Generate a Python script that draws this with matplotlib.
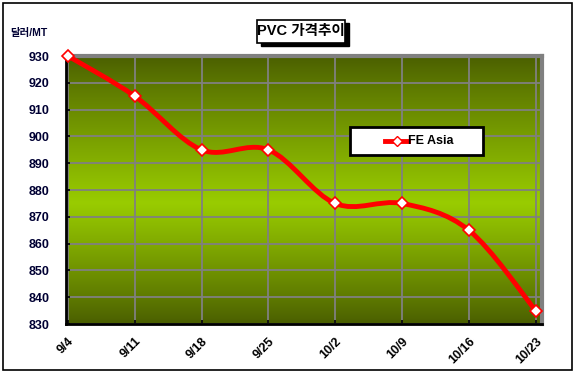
import matplotlib.pyplot as plt
import numpy as np
from matplotlib.path import Path
from matplotlib.patches import PathPatch, Rectangle
from matplotlib.lines import Line2D

plt.rcParams['font.family'] = ['Liberation Sans', 'Noto Sans CJK KR', 'DejaVu Sans']

# data
dates = ["9/4", "9/11", "9/18", "9/25", "10/2", "10/9", "10/16", "10/23"]
prices = [930, 915, 895, 895, 875, 875, 865, 835]
yticks = [830, 840, 850, 860, 870, 880, 890, 900, 910, 920, 930]

fig = plt.figure(figsize=(5.76, 3.76), dpi=100)
fig.patches.append(Rectangle((0.005, 0.016), 0.988, 0.976, transform=fig.transFigure,
                             fill=False, edgecolor='black', lw=1.2))

ax = fig.add_axes([0.1146, 0.138, 0.826, 0.713])
x = np.arange(len(prices))
ax.set_xlim(-0.03, 7.09)
ax.set_ylim(830, 930)

# gradient background: dark olive -> bright yellow green -> dark olive
dark = np.array([74, 94, 0]) / 255
light = np.array([153, 204, 0]) / 255
t = np.linspace(0, 1, 200)
w = np.where(t < 0.45, t / 0.45, (1 - t) / 0.55)
w = np.clip(w, 0, 1) ** 0.9
grad = dark[None, :] * (1 - w[:, None]) + light[None, :] * w[:, None]
ax.imshow(grad[:, None, :], aspect='auto', extent=[-0.03, 7.09, 830, 930],
          origin='lower', zorder=0, interpolation='bilinear')

ax.set_yticks(yticks)
ax.set_xticks(x)
ax.set_xticklabels(dates, rotation=45, ha='right', rotation_mode='anchor')
ax.grid(True, color='#808080', lw=1.3, zorder=1)
ax.tick_params(direction='in', length=3, color='black', width=1.2, labelsize=9,
               labelcolor='#000033')
for lab in ax.get_xticklabels() + ax.get_yticklabels():
    lab.set_fontweight('bold')
ax.tick_params(axis='x', pad=8, labelcolor='black')
ax.tick_params(axis='y', pad=12)

ax.spines['left'].set_color('black')
ax.spines['bottom'].set_color('black')
ax.spines['left'].set_linewidth(2)
ax.spines['bottom'].set_linewidth(2)
ax.spines['top'].set_color('#808080')
ax.spines['right'].set_color('#808080')
ax.spines['top'].set_linewidth(3)
ax.spines['right'].set_linewidth(3)

# smoothed line (Catmull-Rom as bezier curves)
pts = np.column_stack([x, prices]).astype(float)
verts = [pts[0]]
codes = [Path.MOVETO]
n = len(pts)
for i in range(n - 1):
    p0 = pts[max(i - 1, 0)]
    p1 = pts[i]
    p2 = pts[i + 1]
    p3 = pts[min(i + 2, n - 1)]
    c1 = p1 + (p2 - p0) / 6
    c2 = p2 - (p3 - p1) / 6
    verts += [c1, c2, p2]
    codes += [Path.CURVE4] * 3
ax.add_patch(PathPatch(Path(verts, codes), facecolor='none', edgecolor='red',
                       lw=3.5, zorder=3, clip_on=False))
ax.plot(x, prices, linestyle='none', marker='D', markersize=6, markerfacecolor='white',
        markeredgecolor='red', markeredgewidth=1.2, zorder=4, clip_on=False)

# legend box drawn by hand
fig.patches.append(Rectangle((350 / 576, 1 - 155 / 376), 133 / 576, 28 / 376,
                             transform=fig.transFigure, facecolor='white',
                             edgecolor='black', lw=2, zorder=5))
fig.lines.append(Line2D([385 / 576, 408 / 576], [1 - 141 / 376] * 2, transform=fig.transFigure,
                        color='red', lw=3.5, zorder=6))
fig.lines.append(Line2D([396.5 / 576], [1 - 141 / 376], transform=fig.transFigure,
                        marker='D', markersize=5, markerfacecolor='white',
                        markeredgecolor='red', lw=0, zorder=7))
fig.text(408 / 576, 1 - 141 / 376, "FE Asia", ha='left', va='center',
         fontsize=9, fontweight='bold', zorder=8)

# title with shadow box
fig.patches.append(Rectangle((261 / 576, 1 - 46 / 376), 88 / 576, 23 / 376,
                             transform=fig.transFigure, facecolor='black', edgecolor='black'))
fig.patches.append(Rectangle((257 / 576, 1 - 43 / 376), 88 / 576, 23 / 376,
                             transform=fig.transFigure, facecolor='white', edgecolor='black', lw=1.2))
fig.text(301 / 576, 1 - 31.5 / 376, "PVC 가격추이", ha='center', va='center',
         fontsize=10.5, fontweight='bold')
fig.text(10 / 576, 1 - 33 / 376, "달러/MT", ha='left', va='center',
         fontsize=7.5, fontweight='bold', color='#000033')

fig.savefig('out.png', dpi=100)
